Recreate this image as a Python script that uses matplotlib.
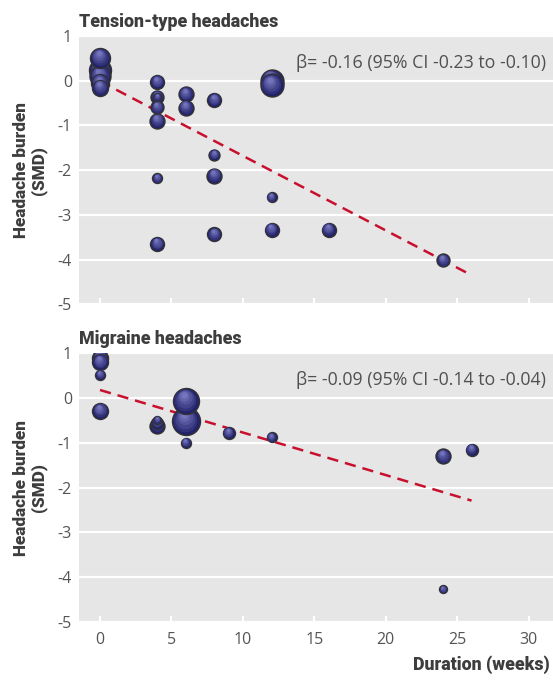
import numpy as np
import matplotlib
matplotlib.use("Agg")
import matplotlib.pyplot as plt
from matplotlib import transforms
from matplotlib.colors import to_rgb

# Tension-type headaches: duration (weeks), SMD, bubble weight (diameter, px)
tt_x = [0, 0, 0, 0, 0, 4, 4, 4, 4, 4, 4, 4, 6, 6, 8, 8, 8, 8, 12, 12, 12, 12, 16, 24]
tt_y = [0.52, 0.25, 0.1, -0.05, -0.15, -0.03, -0.36, -0.36, -0.59, -0.89, -2.18, -3.65,
        -0.3, -0.6, -0.43, -1.66, -2.12, -3.44, 0.0, -0.1, -2.61, -3.33, -3.33, -4.02]
tt_w = [20, 22, 21, 18, 16, 14, 13, 8, 13, 15, 10, 14,
        15, 15, 14, 11, 15, 14, 23, 23, 10, 14, 14, 13]
tt_fit = (-0.01, -0.167)   # intercept, slope
tt_text = "β= -0.16 (95% CI -0.23 to -0.10)"

# Migraine headaches
mg_x = [0, 0, 0, 0, 4, 4, 4, 6, 6, 6, 9, 12, 24, 24, 26]
mg_y = [0.9, 0.8, 0.52, -0.29, -0.62, -0.55, -0.49, -0.07, -0.52, -1.0, -0.78, -0.88,
        -1.3, -4.27, -1.15]
mg_w = [16, 16, 10, 16, 15, 12, 8, 26, 28, 10, 12, 10, 15, 8, 12]
mg_fit = (0.18, -0.095)
mg_text = "β= -0.09 (95% CI -0.14 to -0.04)"

fit_end = 26
xticks = [0, 5, 10, 15, 20, 25, 30]
yticks = [1, 0, -1, -2, -3, -4, -5]

bg = "#e6e6e6"
tick_col = "#555555"
title_col = "#3d3d3d"
bold_font = ["Roboto", "DejaVu Sans"]
reg_font = ["Open Sans", "DejaVu Sans"]

fig = plt.figure(figsize=(5.53, 6.82), dpi=100)
ax1 = fig.add_axes([0.1429, 0.554, 0.8571, 0.393])
ax2 = fig.add_axes([0.1429, 0.088, 0.8571, 0.394])

dark = np.array(to_rgb("#22226a"))
light = np.array(to_rgb("#8484cc"))


def bubbles(ax, xs, ys, ws):
    for x, y, w in sorted(zip(xs, ys, ws), key=lambda t: -t[2]):
        r_pt = w * 0.72 / 2
        ax.scatter([x], [y], s=(2 * r_pt) ** 2, color="#22226a",
                   edgecolors="#333333", linewidths=1.0, zorder=3)
        for k, f in enumerate([0.85, 0.7, 0.55, 0.4, 0.25]):
            c = dark + (light - dark) * (k + 1) / 6
            off = transforms.offset_copy(ax.transData, fig=fig,
                                         x=-(1 - f) * r_pt * 0.2,
                                         y=(1 - f) * r_pt * 0.65, units="points")
            ax.scatter([x], [y], s=(2 * r_pt * f) ** 2, color=c,
                       linewidths=0, zorder=3, transform=off)


def style(ax, fit, txt, data):
    ax.set_facecolor(bg)
    for s in ax.spines.values():
        s.set_visible(False)
    ax.set_xlim(-1.47, 31.7)
    ax.set_ylim(-5, 1)
    ax.set_yticks(yticks)
    ax.set_yticklabels([str(t) for t in yticks], family=reg_font, color=tick_col, fontsize=11.5)
    ax.set_xticks(xticks)
    ax.grid(axis="y", color="white", linewidth=1.6)
    ax.set_axisbelow(True)
    ax.tick_params(axis="y", length=0, pad=5)
    ax.tick_params(axis="x", direction="in", length=4, width=1.5, color="white", pad=7)
    xx = np.array([0, fit_end])
    ax.plot(xx, fit[0] + fit[1] * xx, color="#c8102e", linestyle=(0, (4.5, 2.8)),
            linewidth=1.8, zorder=2)
    bubbles(ax, *data)
    ax.text(0.985, 0.9, txt, transform=ax.transAxes, ha="right", va="center",
            family=reg_font, color="#505050", fontsize=12.8)
    ax.set_ylabel("Headache burden\n(SMD)", family=bold_font, fontweight="black",
                  color=title_col, fontsize=12.3, linespacing=1.05, labelpad=8)


style(ax1, tt_fit, tt_text, (tt_x, tt_y, tt_w))
style(ax2, mg_fit, mg_text, (mg_x, mg_y, mg_w))
ax1.set_xticklabels([])
ax2.set_xticklabels([str(t) for t in xticks], family=reg_font, color=tick_col, fontsize=11.5)

ax1.text(0, 1.02, "Tension-type headaches", transform=ax1.transAxes, ha="left",
         va="bottom", family=bold_font, fontweight="black", color=title_col, fontsize=12.8)
ax2.text(0, 1.02, "Migraine headaches", transform=ax2.transAxes, ha="left",
         va="bottom", family=bold_font, fontweight="black", color=title_col, fontsize=12.8)
fig.text(0.995, 0.012, "Duration (weeks)", ha="right", va="bottom",
         family=bold_font, fontweight="black", color=title_col, fontsize=12.8)

fig.savefig("out.png", dpi=100)
